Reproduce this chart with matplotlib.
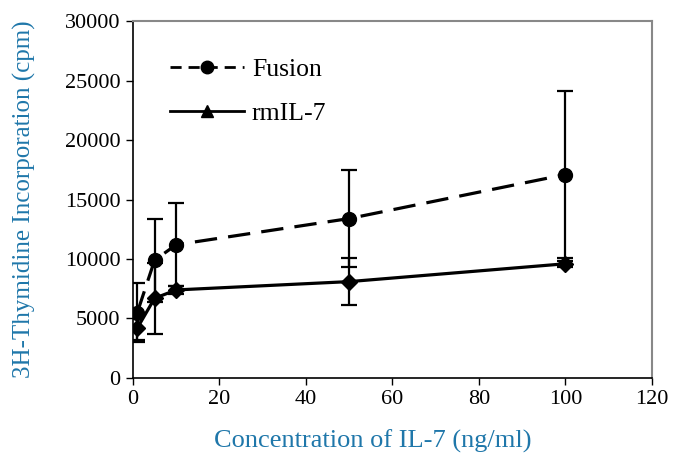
import matplotlib
matplotlib.use("Agg")
import matplotlib.pyplot as plt
from matplotlib.lines import Line2D

conc = [1, 5, 10, 50, 100]
fusion = [5500, 9900, 11200, 13400, 17100]
fusion_err = [2500, 3500, 3500, 4100, 7000]
rmil7 = [4200, 6700, 7400, 8100, 9600]
rmil7_err = [1000, 3000, 300, 2000, 250]

xticks = [0, 20, 40, 60, 80, 100, 120]
yticks = [0, 5000, 10000, 15000, 20000, 25000, 30000]

plt.rcParams['font.family'] = ['Liberation Serif', 'DejaVu Serif']
label_color = '#1f77aa'

fig = plt.figure(figsize=(6.73, 4.57), dpi=100)
ax = fig.add_axes([0.1976, 0.1729, 0.7712, 0.7811])

ax.errorbar(conc, fusion, yerr=fusion_err, color='black', lw=2.3,
            linestyle=(0, (7, 3.5)), marker='o', markersize=10,
            elinewidth=1.6, capsize=6, capthick=1.6, zorder=3)
ax.errorbar(conc, rmil7, yerr=rmil7_err, color='black', lw=2.3,
            linestyle='-', marker='D', markersize=8.5,
            elinewidth=1.6, capsize=6, capthick=1.6, zorder=3)

ax.set_xlim(0, 120)
ax.set_ylim(0, 30000)
ax.set_xticks(xticks)
ax.set_yticks(yticks)
ax.tick_params(labelsize=16, direction='out', length=5, width=1, colors='black', pad=4)
for s in ['top', 'right']:
    ax.spines[s].set_color('#888888')
    ax.spines[s].set_linewidth(1.5)
for s in ['left', 'bottom']:
    ax.spines[s].set_color('black')
    ax.spines[s].set_linewidth(1.2)

ax.set_xlabel('Concentration of IL-7 (ng/ml)', fontsize=19, color=label_color)
ax.xaxis.set_label_coords(0.462, -0.145)
ax.set_ylabel('3H-Thymidine Incorporation (cpm)', fontsize=18, color=label_color, labelpad=21)

handles = [
    Line2D([], [], color='black', lw=2.0, linestyle=(0, (4, 2.5)), marker='o', markersize=9),
    Line2D([], [], color='black', lw=2.0, linestyle='-', marker='^', markersize=9),
]
ax.legend(handles, ['Fusion', 'rmIL-7'], loc='upper left', bbox_to_anchor=(0.026, 0.96),
          frameon=False, fontsize=18.5, handlelength=2.9, handletextpad=0.3,
          labelspacing=0.8)

fig.savefig('out.png', dpi=100)
